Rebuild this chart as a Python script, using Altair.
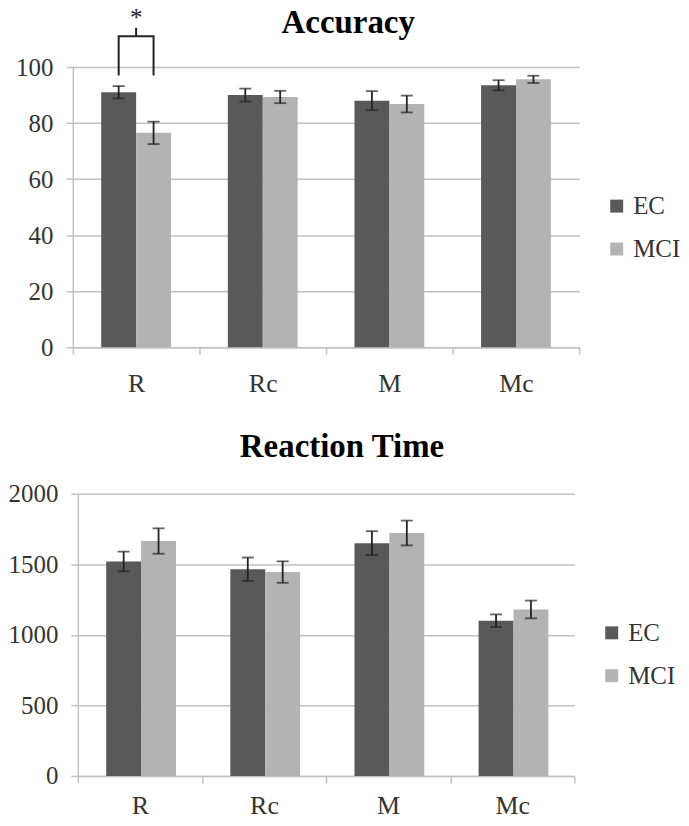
import altair as alt
import pandas as pd

categories = ["R", "Rc", "M", "Mc"]
groups = ["EC", "MCI"]

acc_ec = [91.0, 90.0, 88.0, 93.5]
acc_ec_err = [2.2, 2.3, 3.4, 1.8]
acc_mci = [76.5, 89.3, 86.8, 95.6]
acc_mci_err = [4.0, 2.2, 3.0, 1.3]

rt_ec = [1520, 1465, 1650, 1100]
rt_ec_err = [70, 83, 85, 45]
rt_mci = [1665, 1445, 1722, 1180]
rt_mci_err = [90, 76, 88, 63]

acc_ticks = [0, 20, 40, 60, 80, 100]
rt_ticks = [0, 500, 1000, 1500, 2000]

# significance bracket (Accuracy, R: EC vs MCI)
sig_cat = "R"
sig_leg_bottom = 97
sig_bar_top = 111
sig_tick_top = 114
sig_star_y = 114.6

FONT = "Liberation Serif"
COLORS = ["#595959", "#b3b3b3"]
GRID = "#c2c2c2"
TEXT = "#333333"


def make_df(ec, ec_err, mci, mci_err):
    rows = []
    for i, c in enumerate(categories):
        rows.append(dict(cat=c, grp="EC", val=ec[i], lo=ec[i] - ec_err[i], hi=ec[i] + ec_err[i]))
        rows.append(dict(cat=c, grp="MCI", val=mci[i], lo=mci[i] - mci_err[i], hi=mci[i] + mci_err[i]))
    return pd.DataFrame(rows)


def panel(df, title, ticks, width, height, legend_x, legend_y, xlab_pad, title_offset, extra=None):
    x = alt.X("cat:N", sort=categories, scale=alt.Scale(paddingInner=0, paddingOuter=0),
              axis=alt.Axis(title=None, labelAngle=0, tickBand="extent", tickSize=7,
                            tickColor=GRID, tickWidth=1.5, domainColor=GRID, domainWidth=1.5,
                            labelFont=FONT, labelFontSize=26, labelColor=TEXT,
                            labelPadding=xlab_pad, grid=False))
    xo = alt.XOffset("grp:N", sort=groups, scale=alt.Scale(paddingOuter=0.814, paddingInner=0))
    y = alt.Y("val:Q", scale=alt.Scale(domain=[ticks[0], ticks[-1]], nice=False),
              axis=alt.Axis(title=None, values=ticks, format="d", grid=True, gridColor=GRID, gridWidth=1.5,
                            tickSize=7, tickColor=GRID, tickWidth=1.5,
                            domainColor=GRID, domainWidth=1.5,
                            labelFont=FONT, labelFontSize=25, labelColor=TEXT,
                            labelPadding=13))
    color = alt.Color("grp:N", sort=groups,
                      scale=alt.Scale(domain=groups, range=COLORS),
                      legend=alt.Legend(title=None, orient="none", legendX=legend_x, legendY=legend_y,
                                        symbolType="square", symbolSize=169, symbolStrokeWidth=0,
                                        labelFont=FONT, labelFontSize=25, labelColor=TEXT,
                                        labelOffset=4, rowPadding=17, padding=0))
    base = alt.Chart(df)
    bars = base.mark_bar(stroke=None).encode(x=x, xOffset=xo, y=y, color=color)
    err = base.mark_rule(color="#222222", strokeWidth=1.8).encode(
        x=alt.X("cat:N", sort=categories), xOffset=alt.XOffset("grp:N", sort=groups),
        y="lo:Q", y2="hi:Q")
    cap_lo = base.mark_tick(color="#222222", thickness=1.8, size=12).encode(
        x=alt.X("cat:N", sort=categories), xOffset=alt.XOffset("grp:N", sort=groups), y="lo:Q")
    cap_hi = base.mark_tick(color="#222222", thickness=1.8, size=12).encode(
        x=alt.X("cat:N", sort=categories), xOffset=alt.XOffset("grp:N", sort=groups), y="hi:Q")
    layers = [bars, err, cap_lo, cap_hi]
    if extra:
        layers += extra
    return alt.layer(*layers).properties(
        width=width, height=height,
        title=alt.TitleParams(title, font=FONT, fontSize=33, fontWeight="bold", color="black",
                              anchor="middle", frame="bounds", baseline="alphabetic",
                              offset=title_offset))


brk_df = pd.DataFrame({
    "cat": [sig_cat] * 4,
    "grp": ["EC", "EC", "MCI", "MCI"],
    "val": [sig_leg_bottom, sig_bar_top, sig_bar_top, sig_leg_bottom],
    "ord": [0, 1, 2, 3],
})
tick_df = pd.DataFrame({"cat": [sig_cat], "lo": [sig_bar_top], "hi": [sig_tick_top]})
star_df = pd.DataFrame({"cat": [sig_cat], "val": [sig_star_y], "txt": ["*"]})

bracket = alt.Chart(brk_df).mark_line(color="#222222", strokeWidth=2).encode(
    x=alt.X("cat:N", sort=categories), xOffset=alt.XOffset("grp:N", sort=groups),
    y="val:Q", order="ord:Q")
mid_tick = alt.Chart(tick_df).mark_rule(color="#222222", strokeWidth=2).encode(
    x=alt.X("cat:N", sort=categories), y="lo:Q", y2="hi:Q")
star = alt.Chart(star_df).mark_text(font=FONT, fontSize=25, color="#222222", baseline="alphabetic").encode(
    x=alt.X("cat:N", sort=categories), y="val:Q", text="txt:N")

top = panel(make_df(acc_ec, acc_ec_err, acc_mci, acc_mci_err), "Accuracy", acc_ticks,
            508, 281, 533, 127, 16, -59.5, extra=[bracket, mid_tick, star])
bottom = panel(make_df(rt_ec, rt_ec_err, rt_mci, rt_mci_err), "Reaction Time", rt_ticks,
               498, 283, 523, 127, 10, -8)

chart = alt.vconcat(top, bottom, spacing=35, center=True).resolve_scale(
    color="independent"
).properties(
    padding={"top": -4, "left": 0, "right": 0, "bottom": 0}, background="white"
).configure_view(stroke=None)

chart.save("out.html", embed_options={"renderer": "svg", "actions": False})
